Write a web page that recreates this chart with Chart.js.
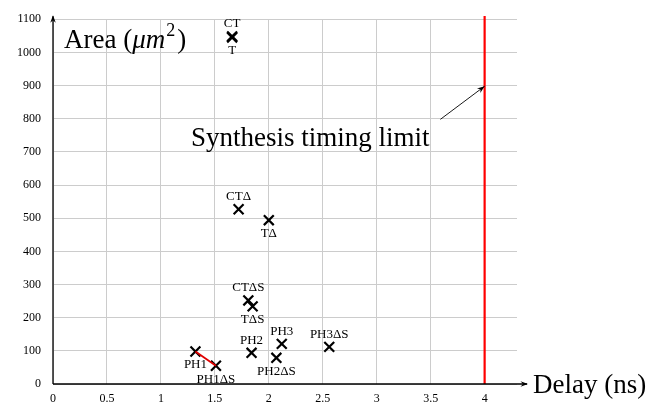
<!DOCTYPE html>
<html lang="en">
<head>
  <meta charset="UTF-8">
  <title>Area vs Delay</title>
  <script src="https://cdn.jsdelivr.net/npm/chart.js"></script>
  <style>
    html, body { margin: 0; padding: 0; background: #fff; }
    #wrap { width: 654px; height: 413px; }
  </style>
</head>
<body>
  <div id="wrap"><canvas id="chart"></canvas></div>
  <script>
    // design points
    const names = ['CT', 'T', 'CTΔ', 'TΔ', 'CTΔS', 'TΔS', 'PH1', 'PH1ΔS', 'PH2', 'PH2ΔS', 'PH3', 'PH3ΔS'];
    const delays = [1.66, 1.66, 1.72, 2.00, 1.81, 1.85, 1.32, 1.51, 1.84, 2.07, 2.12, 2.56];
    const areas = [1048, 1045, 527, 494, 252, 234, 98, 55, 94, 79, 121, 112];
    const labelSide = ['above', 'below', 'above', 'below', 'above', 'below', 'below', 'below', 'above', 'below', 'above', 'above'];

    // PH1 -> PH1ΔS link
    const linkX = [1.32, 1.51];
    const linkY = [98, 55];

    const limitDelay = 4;
    const arrowFrom = [3.59, 798];
    const arrowTo = [4.0, 898];

    const serif = '"Liberation Serif", "DejaVu Serif", serif';

    const points = delays.map((d, i) => ({ x: d, y: areas[i] }));

    const decor = {
      id: 'decor',
      afterDraw(chart) {
        const { ctx, chartArea: a, scales: { x, y } } = chart;
        ctx.save();
        ctx.strokeStyle = '#000';
        ctx.fillStyle = '#000';
        ctx.lineWidth = 1.3;

        // axes with arrowheads
        const x0 = x.getPixelForValue(0), y0 = y.getPixelForValue(0);
        const head = (tx, ty, ang) => {
          ctx.beginPath();
          ctx.moveTo(tx, ty);
          ctx.lineTo(tx - 8 * Math.cos(ang - 0.35), ty - 8 * Math.sin(ang - 0.35));
          ctx.lineTo(tx - 5 * Math.cos(ang), ty - 5 * Math.sin(ang));
          ctx.lineTo(tx - 8 * Math.cos(ang + 0.35), ty - 8 * Math.sin(ang + 0.35));
          ctx.closePath();
          ctx.fill();
        };
        ctx.beginPath();
        ctx.moveTo(x0, y0);
        ctx.lineTo(x0, a.top - 3);
        ctx.moveTo(x0, y0);
        ctx.lineTo(a.right + 10, y0);
        ctx.stroke();
        head(x0, a.top - 4, -Math.PI / 2);
        head(a.right + 11, y0, 0);

        // annotation arrow
        const ax1 = x.getPixelForValue(arrowFrom[0]), ay1 = y.getPixelForValue(arrowFrom[1]);
        const ax2 = x.getPixelForValue(arrowTo[0]), ay2 = y.getPixelForValue(arrowTo[1]);
        ctx.lineWidth = 0.9;
        ctx.beginPath();
        ctx.moveTo(ax1, ay1);
        ctx.lineTo(ax2, ay2);
        ctx.stroke();
        head(ax2, ay2, Math.atan2(ay2 - ay1, ax2 - ax1));

        // point labels
        ctx.font = '13px ' + serif;
        ctx.textAlign = 'center';
        points.forEach((p, i) => {
          const px = x.getPixelForValue(p.x), py = y.getPixelForValue(p.y);
          if (labelSide[i] === 'above') {
            ctx.textBaseline = 'bottom';
            ctx.fillText(names[i], px, py - 6);
          } else {
            ctx.textBaseline = 'top';
            ctx.fillText(names[i], px, py + 7);
          }
        });

        // big texts
        ctx.textBaseline = 'alphabetic';
        ctx.textAlign = 'left';
        ctx.font = '27px ' + serif;
        ctx.fillText('Synthesis timing limit', 191, 146);
        ctx.fillText('Delay (ns)', 533, 393);

        let tx = 64;
        const ty = 48;
        ctx.font = '27px ' + serif;
        ctx.fillText('Area (', tx, ty);
        tx += ctx.measureText('Area (').width;
        ctx.font = 'italic 27px ' + serif;
        ctx.fillText('μm', tx, ty);
        tx += ctx.measureText('μm').width;
        ctx.font = '18px ' + serif;
        ctx.fillText('2', tx + 1, ty - 12);
        tx += ctx.measureText('2').width + 3;
        ctx.font = '27px ' + serif;
        ctx.fillText(')', tx, ty);
        ctx.restore();
      }
    };

    new Chart(document.getElementById('chart'), {
      type: 'scatter',
      data: {
        datasets: [
          {
            type: 'line',
            data: [{ x: limitDelay, y: 0 }, { x: limitDelay, y: 1110 }],
            borderColor: '#ff0000',
            borderWidth: 2.2,
            pointRadius: 0,
            clip: false
          },
          {
            type: 'line',
            data: linkX.map((v, i) => ({ x: v, y: linkY[i] })),
            borderColor: '#e00000',
            borderWidth: 1.8,
            pointRadius: 0
          },
          {
            data: points,
            pointStyle: 'crossRot',
            pointRadius: 7,
            pointBorderWidth: 2.2,
            borderColor: '#000',
            backgroundColor: '#000'
          }
        ]
      },
      options: {
        responsive: true,
        maintainAspectRatio: false,
        animation: false,
        layout: { padding: { left: 0, right: 137, top: 16, bottom: 0 } },
        plugins: { legend: { display: false }, tooltip: { enabled: false } },
        scales: {
          x: {
            type: 'linear',
            min: 0,
            max: 4.3,
            border: { display: false },
            grid: { color: '#cccccc', drawTicks: false, lineWidth: 1 },
            ticks: {
              stepSize: 0.5,
              includeBounds: false,
              padding: 8,
              color: '#000',
              maxRotation: 0,
              font: { family: serif, size: 12 },
              callback: v => String(v)
            },
            afterFit(scale) { scale.height = 29; }
          },
          y: {
            min: 0,
            max: 1100,
            border: { display: false },
            grid: { color: '#cccccc', drawTicks: false, lineWidth: 1 },
            ticks: {
              stepSize: 100,
              padding: 12,
              color: '#000',
              font: { family: serif, size: 12 },
              callback: v => String(v)
            },
            afterFit(scale) { scale.width = 53; }
          }
        }
      },
      plugins: [decor]
    });
  </script>
</body>
</html>
